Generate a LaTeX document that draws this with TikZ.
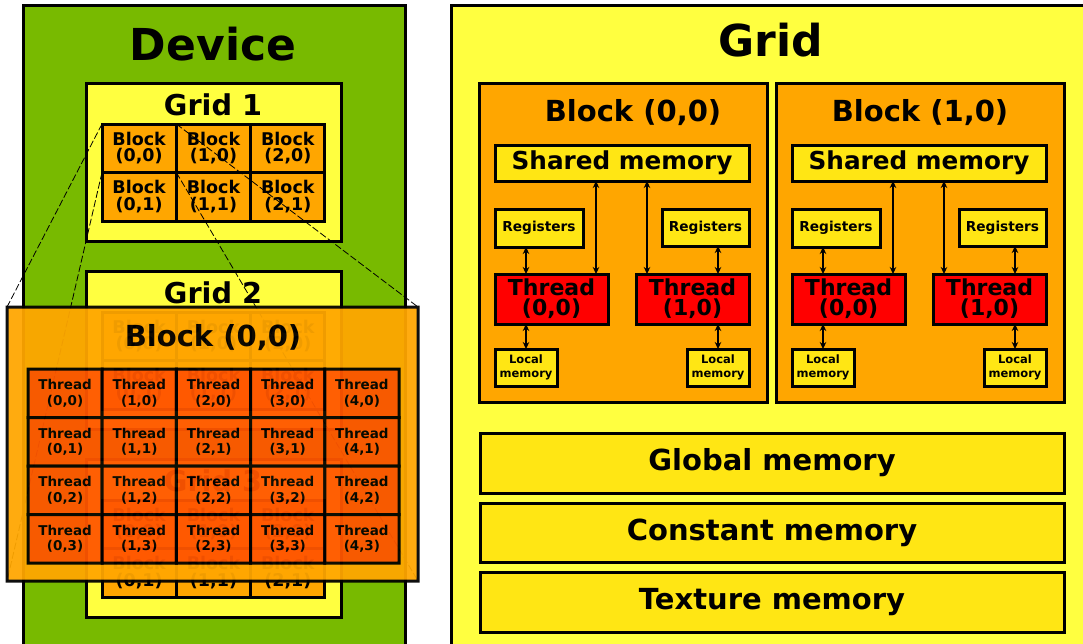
\documentclass[tikz,border=0pt]{standalone}
\usepackage{fontspec}
\setmainfont{DejaVu Sans}
\usetikzlibrary{arrows.meta}

\definecolor{devgreen}{RGB}{120,186,0}
\definecolor{gridyellow}{RGB}{255,255,64}
\definecolor{blockorange}{RGB}{255,166,0}
\definecolor{memyellow}{RGB}{255,230,20}
\definecolor{threadred}{RGB}{255,0,0}
\definecolor{cellorange}{RGB}{255,85,0}

% rectangle node from two corners: name, style, x1, y1, x2, y2, text
\newcommand\mkbox[7]{%
  \node[#2, minimum width={(#5)-(#3)}, minimum height={(#6)-(#4)}]
    (#1) at ({((#3)+(#5))/2},{((#4)+(#6))/2}) {#7};}

\begin{document}
\begin{tikzpicture}[x=1pt, y=-1pt,
  frame/.style={draw=black, line width=3pt, inner sep=0pt, outer sep=0pt,
                font=\bfseries, align=center},
  title/.style={inner sep=0pt, outer sep=0pt, anchor=base, font=\bfseries},
  fs/.style={font=\bfseries\fontsize{#1}{#1}\selectfont},
  gblock/.style={frame, fill=blockorange, font=\bfseries\fontsize{17.5}{16.5}\selectfont},
  tcell/.style={frame, fill=cellorange, font=\bfseries\fontsize{13.5}{15.5}\selectfont},
  mem/.style={frame, fill=memyellow},
  rthread/.style={frame, fill=threadred, font=\bfseries\fontsize{22}{20}\selectfont},
  regbox/.style={mem, font=\bfseries\fontsize{13.7}{14}\selectfont},
  locbox/.style={mem, font=\bfseries\fontsize{11.5}{13.5}\selectfont},
  link/.style={line width=2pt, {Stealth[length=7pt,width=6.5pt]}-{Stealth[length=7pt,width=6.5pt]}},
  zoomline/.style={line width=0.8pt, dash pattern=on 7pt off 2.5pt}]

\useasboundingbox (0,0) rectangle (1083,643);
\clip (0,0) rectangle (1083,643);

% ---------------- device with three grids ----------------
\mkbox{dev}{frame, fill=devgreen}{23}{5}{405}{680}{}
\node[title, fs=44] (devt) at (213,60) {Device};

\foreach \g in {1,2,3} {
  \pgfmathsetmacro\gt{83+188*(\g-1)}
  \mkbox{grid\g}{frame, fill=gridyellow}{86}{\gt}{341}{\gt+158}{}
  \node[title, fs=28.7] (gridt\g) at (213,\gt+32) {Grid \g};
  \foreach \c in {0,1,2} {
    \foreach \r in {0,1} {
      \mkbox{b\g-\c-\r}{gblock}{102+74.33*\c}{\gt+41+48.5*\r}{102+74.33*(\c+1)}{\gt+41+48.5*(\r+1)}{Block\\(\c,\r)}
    }
  }
}

% ---------------- enlarged block of grid 1 ----------------
\coordinate (ovnw) at (7,307);
\coordinate (ovne) at (418,307);
\coordinate (ovsw) at (7,581);
\coordinate (ovse) at (418,581);
\draw[zoomline] (b1-0-0.north west) -- (ovnw);
\draw[zoomline] (b1-0-0.south west) -- (ovsw);
\draw[zoomline] (b1-0-0.north east) -- (ovne);
\draw[zoomline] (b1-0-0.south east) -- (ovse);

\begin{scope}[transparency group, opacity=0.94]
  \mkbox{ov}{frame, fill=blockorange}{7}{307}{418}{581}{}
  \node[title, fs=29] (ovt) at (213,346) {Block (0,0)};
  \foreach \c in {0,...,4} {
    \foreach \r in {0,...,3} {
      \mkbox{t-\c-\r}{tcell}{28+74.2*\c}{369+48.5*\r}{28+74.2*(\c+1)}{369+48.5*(\r+1)}{Thread\\(\c,\r)}
    }
  }
\end{scope}

% ---------------- memory hierarchy of a grid ----------------
\mkbox{grid}{frame, fill=gridyellow}{451}{5}{1110}{680}{}
\node[title, fs=44] (gridt) at (771,56) {Grid};

\foreach \k/\dx/\tx in {0/0/633, 1/297/920} {
  \mkbox{blk\k}{frame, fill=blockorange}{479+\dx}{83}{767+\dx}{402}{}
  \node[title, fs=29] (blkt\k) at (\tx,121) {Block (\k,0)};
  \mkbox{sh\k}{mem, fs=24.7}{495+\dx}{145}{749+\dx}{181}{Shared memory}
  \mkbox{regA\k}{regbox}{495+\dx}{209}{583+\dx}{247}{Registers}
  \mkbox{regB\k}{regbox}{662+\dx}{209}{749+\dx}{246}{Registers}
  \mkbox{thA\k}{rthread}{495+\dx}{274}{608+\dx}{324}{Thread\\(0,0)}
  \mkbox{thB\k}{rthread}{636+\dx}{274}{749+\dx}{324}{Thread\\(1,0)}
  \mkbox{locA\k}{locbox}{495+\dx}{349}{557+\dx}{386}{Local\\memory}
  \mkbox{locB\k}{locbox}{687+\dx}{349}{749+\dx}{386}{Local\\memory}
  \draw[link] (regA\k.south -| locA\k.north) -- (thA\k.north -| locA\k.north);
  \draw[link] (thA\k.south -| locA\k.north) -- (locA\k.north);
  \draw[link] (regB\k.south -| locB\k.north) -- (thB\k.north -| locB\k.north);
  \draw[link] (thB\k.south -| locB\k.north) -- (locB\k.north);
  \draw[link] ([xshift=-12pt]thA\k.north east) -- ([xshift=-12pt]thA\k.north east |- sh\k.south);
  \draw[link] ([xshift=11pt]thB\k.north west) -- ([xshift=11pt]thB\k.north west |- sh\k.south);
}

\mkbox{gmem}{mem, fs=29}{480}{433}{1064}{493}{Global memory}
\mkbox{cmem}{mem, fs=29}{480}{503}{1064}{562}{Constant memory}
\mkbox{tmem}{mem, fs=29}{480}{572}{1064}{632}{Texture memory}
\end{tikzpicture}
\end{document}
